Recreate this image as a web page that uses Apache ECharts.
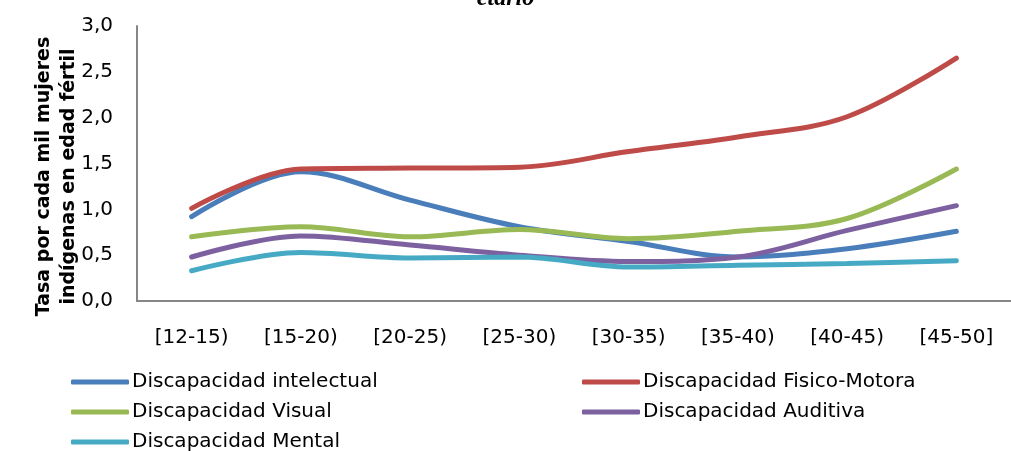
<!DOCTYPE html>
<html>
<head>
<meta charset="utf-8">
<script src="https://cdn.jsdelivr.net/npm/echarts@6/dist/echarts.min.js"></script>
<style>html,body{margin:0;padding:0;background:#fff}#c{width:1011px;height:451px}</style>
</head>
<body>
<div id="c"></div>
<script>
var categories = ['[12-15)', '[15-20)', '[20-25)', '[25-30)', '[30-35)', '[35-40)', '[40-45)', '[45-50]'];
var intelectual = [0.92, 1.41, 1.10, 0.81, 0.65, 0.48, 0.57, 0.76];
var fisicoMotora = [1.01, 1.44, 1.45, 1.46, 1.63, 1.79, 2.01, 2.65];
var visual = [0.70, 0.81, 0.70, 0.78, 0.68, 0.76, 0.90, 1.44];
var auditiva = [0.48, 0.71, 0.61, 0.50, 0.43, 0.48, 0.77, 1.04];
var mental = [0.33, 0.53, 0.47, 0.48, 0.37, 0.39, 0.41, 0.44];
var yTicks = [0, 0.5, 1, 1.5, 2, 2.5, 3];

var FONT = 'DejaVu Sans';
var chart = echarts.init(document.getElementById('c'));
function mk(name, data, color) {
  return {name: name, type: 'line', data: data, smooth: 0.35, symbol: 'none',
    lineStyle: {color: color, width: 5, cap: 'round'}, itemStyle: {color: color}};
}
var legendText = {fontFamily: FONT, fontSize: 20, lineHeight: 19, color: '#000', padding: [0, 0, 0, -2]};
chart.setOption({
  animation: false,
  title: {text: 'etario', left: 'center', top: -18,
    textStyle: {fontFamily: 'Liberation Serif', fontStyle: 'italic', fontWeight: 'bold', fontSize: 24, color: '#000'}},
  grid: {left: 137, top: 26, bottom: 150, right: -11, containLabel: false},
  xAxis: {type: 'category', data: categories, boundaryGap: true,
    axisLine: {lineStyle: {color: '#868686', width: 2}}, axisTick: {show: false},
    axisLabel: {fontFamily: FONT, fontSize: 20, color: '#000', margin: 27}},
  yAxis: {type: 'value', min: yTicks[0], max: yTicks[yTicks.length - 1], interval: 0.5,
    name: 'Tasa por cada mil mujeres\nindígenas en edad fértil', nameLocation: 'middle', nameRotate: 90, nameGap: 55,
    nameMoveOverlap: false,
    nameTextStyle: {fontFamily: FONT, fontSize: 19, fontWeight: 'bold', color: '#000', lineHeight: 25, padding: [0, 26, 0, 0]},
    axisLine: {show: true, lineStyle: {color: '#868686', width: 2}}, axisTick: {show: false},
    splitLine: {show: false},
    axisLabel: {fontFamily: FONT, fontSize: 20, color: '#000', margin: 24,
      formatter: function (v) { return v.toFixed(1).replace('.', ','); }}},
  legend: [
    {left: 66, top: 367, height: 120, orient: 'vertical', itemGap: 10, itemWidth: 58, itemHeight: 5, icon: 'roundRect',
      data: ['Discapacidad intelectual', 'Discapacidad Visual', 'Discapacidad Mental'], textStyle: legendText},
    {left: 577, top: 367, height: 120, orient: 'vertical', itemGap: 10, itemWidth: 58, itemHeight: 5, icon: 'roundRect',
      data: ['Discapacidad Fisico-Motora', 'Discapacidad Auditiva'], textStyle: legendText}
  ],
  series: [
    mk('Discapacidad intelectual', intelectual, '#4a7ebb'),
    mk('Discapacidad Fisico-Motora', fisicoMotora, '#be4b48'),
    mk('Discapacidad Visual', visual, '#98b954'),
    mk('Discapacidad Auditiva', auditiva, '#7d60a0'),
    mk('Discapacidad Mental', mental, '#46aac5')
  ]
});
</script>
</body>
</html>
